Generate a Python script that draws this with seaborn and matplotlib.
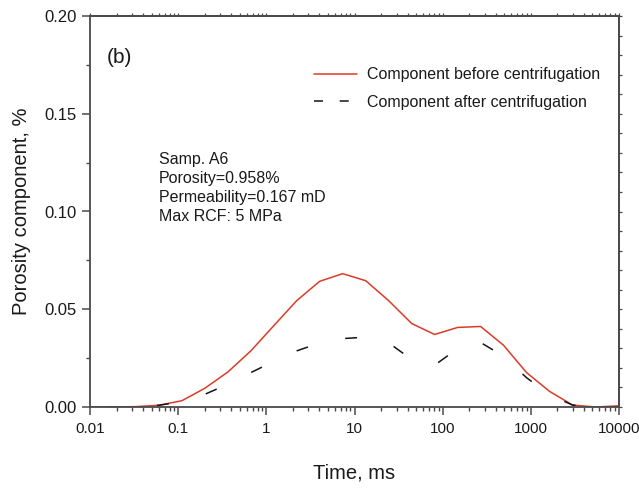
import numpy as np
import pandas as pd
import matplotlib
matplotlib.use("Agg")
import matplotlib.pyplot as plt
from matplotlib.lines import Line2D
from matplotlib.ticker import MultipleLocator, LogLocator, NullFormatter
import seaborn as sns

# T2 time axis (ms)
time_ms = [0.01, 0.0182, 0.0332, 0.0606, 0.110, 0.201, 0.366, 0.667, 1.21, 2.21,
           4.03, 7.34, 13.4, 24.4, 44.5, 81.1, 148, 269, 490, 894,
           1630, 2970, 5410, 10000]

# porosity component (%) before / after centrifugation
before = [0.0, 0.0, 0.0002, 0.0009, 0.0032, 0.0096, 0.0179, 0.0287, 0.0415, 0.0544,
          0.0643, 0.0682, 0.0646, 0.0544, 0.0427, 0.0371, 0.0407, 0.0412, 0.0316, 0.0176,
          0.0080, 0.0010, 0.0, 0.0006]
after = [0.0, 0.0, 0.0, 0.0009, 0.0027, 0.0065, 0.0117, 0.0176, 0.0233, 0.0287,
         0.0328, 0.0350, 0.0357, 0.0328, 0.0243, 0.0214, 0.0299, 0.0330, 0.0260, 0.0150,
         0.0063, 0.0010, 0.0, 0.0]

labels = ["Component before centrifugation", "Component after centrifugation"]
info_lines = ["Samp. A6", "Porosity=0.958%", "Permeability=0.167 mD", "Max RCF: 5 MPa"]
panel = "(b)"

df = pd.DataFrame({"time": time_ms, "before": before, "after": after})

sns.set_style("ticks")
plt.rcParams["font.family"] = ["Liberation Sans", "DejaVu Sans"]
plt.rcParams["lines.scale_dashes"] = False

red = "#dc3b26"
dark = "#151515"
spine_col = "#4a4a4a"
txt_col = "#1a1a1a"

fig, ax = plt.subplots(figsize=(6.39, 4.9), dpi=100)
fig.subplots_adjust(left=90 / 639, right=619 / 639, top=1 - 16 / 490, bottom=1 - 407 / 490)

sns.lineplot(data=df, x="time", y="before", color=red, linewidth=1.1, ax=ax)
# dashes ~12 px long every ~50 px along the path
sns.lineplot(data=df, x="time", y="after", color=dark, linewidth=1.1,
             linestyle=(24.1, (8.6, 27.6)), ax=ax)

ax.set_xscale("log")
ax.set_xlim(0.01, 10000)
ax.set_ylim(0, 0.2)
ax.set_xticks([0.01, 0.1, 1, 10, 100, 1000, 10000])
ax.set_xticklabels(["0.01", "0.1", "1", "10", "100", "1000", "10000"])
ax.xaxis.set_minor_locator(LogLocator(base=10, subs=np.arange(2, 10)))
ax.xaxis.set_minor_formatter(NullFormatter())
ax.yaxis.set_major_locator(MultipleLocator(0.05))
ax.yaxis.set_minor_locator(MultipleLocator(0.025))
ax.yaxis.set_major_formatter(matplotlib.ticker.FormatStrFormatter("%.2f"))

ax.tick_params(which="major", length=6, width=1.1, color=spine_col, labelcolor=txt_col)
ax.tick_params(axis="x", which="major", labelsize=11, pad=5)
ax.tick_params(axis="y", which="major", labelsize=12, pad=3.5)
ax.tick_params(which="minor", length=3.2, width=1.0, color=spine_col)
for s in ax.spines.values():
    s.set_color(spine_col)
    s.set_linewidth(1.3)
    s.set_visible(True)

# small outward ticks on top and right frame
top = ax.secondary_xaxis("top")
top.set_xticks([0.01, 0.1, 1, 10, 100, 1000, 10000])
top.xaxis.set_minor_locator(LogLocator(base=10, subs=np.arange(2, 10)))
top.xaxis.set_major_formatter(NullFormatter())
top.xaxis.set_minor_formatter(NullFormatter())
top.tick_params(which="both", length=2, width=0.9, color=spine_col)
top.spines["top"].set_color(spine_col)
top.spines["top"].set_linewidth(1.3)

right = ax.secondary_yaxis("right")
right.yaxis.set_major_locator(MultipleLocator(0.01))
right.yaxis.set_major_formatter(NullFormatter())
right.tick_params(which="both", length=2, width=0.9, color=spine_col)
right.spines["right"].set_color(spine_col)
right.spines["right"].set_linewidth(1.3)

ax.set_xlabel("Time, ms", fontsize=14.5, labelpad=19.5, color=txt_col)
ax.set_ylabel("Porosity component, %", fontsize=14.5, labelpad=10, color=txt_col)

ax.text(0.0548, 0.895, panel, transform=ax.transAxes, fontsize=15, ha="center", va="center",
        color=txt_col)
ax.text(0.1304, 0.560, "\n".join(info_lines), transform=ax.transAxes, fontsize=11.5,
        ha="left", va="center", linespacing=1.33, color=txt_col)

handles = [Line2D([], [], color=red, linewidth=1.1),
           Line2D([], [], color=dark, linewidth=1.1, linestyle=(0, (6.5, 12)))]
ax.legend(handles, labels, loc="upper left", bbox_to_anchor=(0.4234, 0.869), frameon=False,
          fontsize=11.5, handlelength=2.7, handletextpad=0.6, labelspacing=0.8,
          borderpad=0, borderaxespad=0, labelcolor=txt_col)

fig.savefig("out.png", dpi=100)
